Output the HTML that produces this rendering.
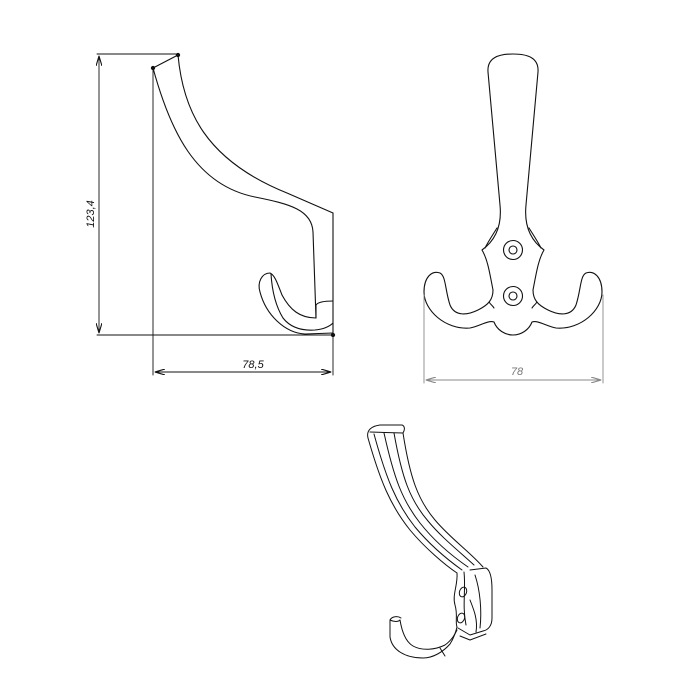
<!DOCTYPE html>
<html><head><style>html,body{margin:0;padding:0;background:#fff}svg{display:block}</style></head>
<body>
<svg width="700" height="700" viewBox="0 0 700 700" xmlns="http://www.w3.org/2000/svg" fill="none" stroke="#111" stroke-width="1.1" stroke-linecap="round" stroke-linejoin="round">
<defs>
<marker id="a" viewBox="0 0 10 6" refX="10" refY="3" markerWidth="10" markerHeight="6" orient="auto-start-reverse" markerUnits="userSpaceOnUse"><path d="M0,0 L10,3 L0,6" fill="none" stroke="#111"/></marker>
<marker id="g" viewBox="0 0 10 6" refX="10" refY="3" markerWidth="10" markerHeight="6" orient="auto-start-reverse" markerUnits="userSpaceOnUse"><path d="M0,0 L10,3 L0,6" fill="none" stroke="#888"/></marker>
</defs>
<!-- Side view dims -->
<g stroke-width="0.9">
<line x1="97" y1="54" x2="178" y2="54"/>
<line x1="97" y1="335" x2="333" y2="335"/>
<line x1="99" y1="56" x2="99" y2="333" marker-start="url(#a)" marker-end="url(#a)"/>
<line x1="153" y1="68" x2="153" y2="375"/>
<line x1="333" y1="213" x2="333" y2="375"/>
<line x1="155" y1="372" x2="331" y2="372" marker-start="url(#a)" marker-end="url(#a)"/>
</g>
<text x="94" y="214" font-family="Liberation Sans, sans-serif" font-style="italic" font-size="11" fill="#111" stroke="none" transform="rotate(-90 94 214)" text-anchor="middle">123,4</text>
<text x="253" y="368" font-family="Liberation Sans, sans-serif" font-style="italic" font-size="11" fill="#111" stroke="none" text-anchor="middle">78,5</text>
<circle cx="178" cy="55" r="1.6" fill="#111"/><circle cx="153" cy="68" r="1.6" fill="#111"/><circle cx="333" cy="335" r="1.6" fill="#111"/>
<!-- side profile -->
<path d="M153,68 L178,55"/>
<path d="M178,55 C183,110 205,160 287,193 L333,213"/>
<path d="M153,68 C170,130 195,185 255,197 C290,204 312,210 313,232 L316,318"/>
<path d="M316,318 C300,318 290,310 282,295 C278,285 275,275 270,273 C262,273 257,282 260,292 C266,315 285,333 305,334 L333,333"/>
<path d="M271,274 C272,290 275,305 283,318 C290,327 300,331 315,330 C325,329 330,326 333,323"/>
<path d="M333,213 L333,335"/>
<path d="M316,318 L316,305 C318,302 325,301 333,301"/>
<!-- Front view -->
<g id="fh">
<path d="M513,54 C498,54 487,58 488,72 L500,205 C502,225 496,240 482,250 C488,260 490,275 493,290 C493,300 488,305 478,310 C468,315 455,317 450,305 C445,290 446,276 440,273 C432,270 424,277 424,292 C424,310 445,330 470,328 C480,326 488,320 494,322 C497,330 505,335 513,335"/>
<path d="M497,228 C492,236 488,242 485,248"/>
<path d="M489,302 C491,305 493,306 494,308"/>
</g>
<use href="#fh" transform="translate(1026,0) scale(-1,1)"/>
<circle cx="513" cy="250" r="9.5"/><circle cx="513" cy="250" r="4"/>
<circle cx="513" cy="296" r="9.5"/><circle cx="513" cy="296" r="4"/>
<g stroke="#888" stroke-width="0.9">
<line x1="424" y1="295" x2="424" y2="383"/>
<line x1="603" y1="295" x2="603" y2="383"/>
<line x1="426" y1="380" x2="601" y2="380" marker-start="url(#g)" marker-end="url(#g)"/>
</g>
<text x="517" y="375" font-family="Liberation Sans, sans-serif" font-style="italic" font-size="11" fill="#777" stroke="none" text-anchor="middle">78</text>
<!-- 3D view -->
<g stroke-width="1">
<path d="M368,438 C366,430 372,426 380,425 L402,425 C405,426 405,430 403,433"/>
<path d="M370,432 L403,433"/>
<path d="M368,438 C380,480 390,505 410,530 C425,548 445,565 457,573"/>
<path d="M374,434 C386,478 396,503 415,527 C430,545 448,560 462,570"/>
<path d="M384,433 C394,478 402,500 420,523 C435,542 452,556 468,567"/>
<path d="M394,433 C402,478 410,500 428,521 C442,538 460,552 474,565"/>
<path d="M403,433 C410,478 418,500 435,520 C450,538 470,552 483,567"/>
<path d="M470,570 L486,568 C490,570 492,578 492,590 L492,618 C492,626 488,630 483,631"/>
<path d="M475,575 C480,590 482,610 480,628"/>
<path d="M457,573 C458,585 452,595 455,605 C458,615 455,622 457,627"/>
<path d="M464,572 C466,590 462,605 466,625"/>
<ellipse cx="463" cy="592" rx="3.5" ry="5" transform="rotate(20 463 592)"/>
<ellipse cx="461" cy="618" rx="3.5" ry="5" transform="rotate(20 461 618)"/>
<path d="M457,627 C455,635 452,641 450,644 C443,652 433,658 423,658 C405,658 392,650 390,637 L390,620 C392,616 398,616 401,618"/>
<path d="M390,620 C394,622 398,622 400,620"/>
<path d="M400,620 C402,632 406,642 413,646 C422,651 435,650 445,645 C452,640 455,634 457,630"/>
<path d="M458,628 L470,635 L483,631"/>
<path d="M460,636 L470,640 L486,634"/>
<path d="M440,648 L445,656"/>
<path d="M470,600 C474,610 478,620 476,632"/>
</g>
</svg>
</body></html>
